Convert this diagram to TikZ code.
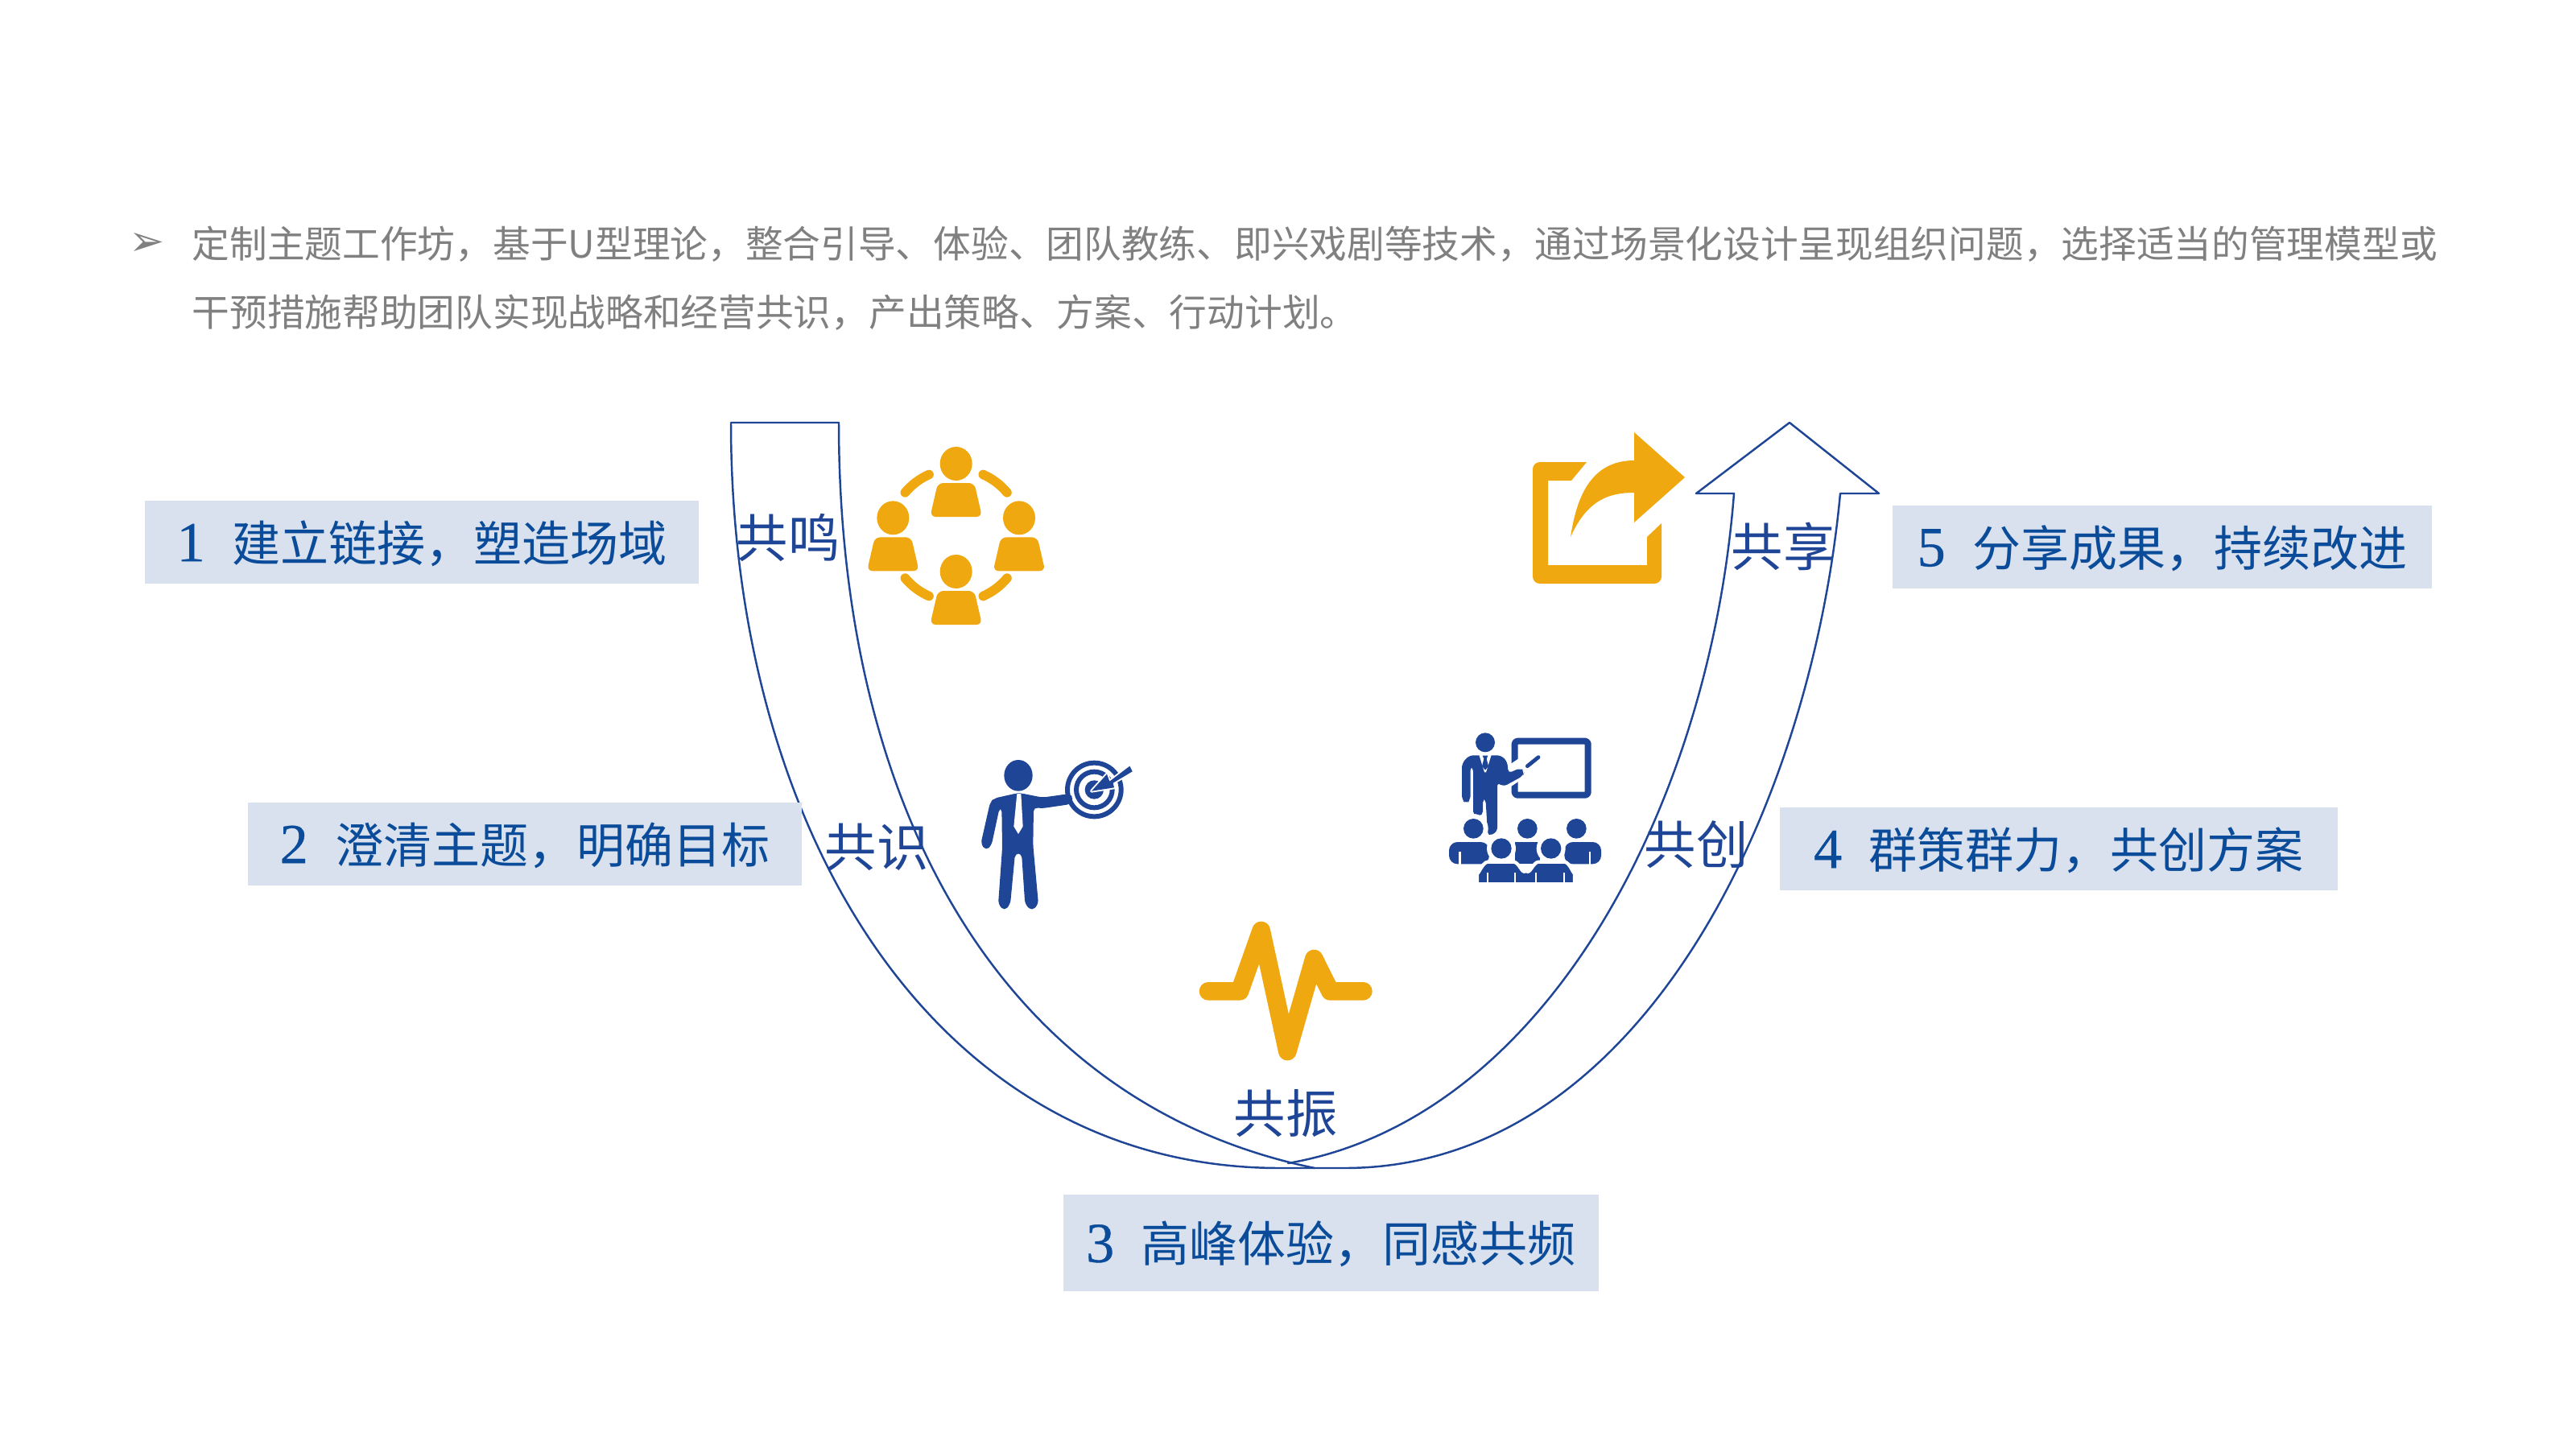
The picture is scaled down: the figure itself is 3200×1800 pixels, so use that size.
\documentclass[tikz,border=0pt]{standalone}
\usepackage{fontspec}
\newfontfamily\cjk{Noto Sans CJK SC}
\newfontfamily\dingfont{DejaVu Sans}
\newfontfamily\digitfont[FakeBold=0.5]{Liberation Serif}
\definecolor{boxfill}{HTML}{D9E1EE}
\definecolor{stagetext}{HTML}{0B4C9A}
\definecolor{iconblue}{HTML}{1F4596}
\definecolor{iconorange}{HTML}{F0A810}
\definecolor{introgray}{HTML}{808080}
\tikzset{
	stagebox/.style={fill=boxfill,text=stagetext,inner sep=0pt,text height=14pt,text depth=0.5pt,font=\cjk\fontsize{17.07}{20}\selectfont},
	gonglabel/.style={text=iconblue,inner sep=0pt,font=\cjk\fontsize{18.3}{20}\selectfont},
	introline/.style={text=introgray,inner sep=0pt,anchor=west,font=\cjk\fontsize{13.28}{16}\selectfont},
	uband/.style={draw=iconblue,line width=.7pt,line join=round},
	notch/.style={draw=white,line width=.8pt}
}
\begin{document}
\begin{tikzpicture}[x=.01cm,y=-.01cm,line join=round,line cap=round]
	\useasboundingbox (0,0) rectangle (3200,1800);
	% intro text
	\node[text=introgray,inner sep=0pt,font=\dingfont\fontsize{15}{16}\selectfont] (bullet) at (183,303) {➢};
	\node[introline] (introa) at (238,303) {定制主题工作坊，基于U型理论，整合引导、体验、团队教练、即兴戏剧等技术，通过场景化设计呈现组织问题，选择适当的管理模型或};
	\node[introline] (introb) at (238,388) {干预措施帮助团队实现战略和经营共识，产出策略、方案、行动计划。};
	% U arrow
	\coordinate (TL) at (908,525);
	\coordinate (TR) at (1042,525);
	\coordinate (X) at (1600,1445);
	\coordinate (HL) at (2107,613);
	\coordinate (HT) at (2223,525);
	\coordinate (HR) at (2334,613);
	\coordinate (SL) at (2154,613);
	\coordinate (SR) at (2286,613);
	\draw[uband] (TR)--(TL) .. controls (908,1030) and (1160,1451) .. (1590,1451)--(1670,1451) .. controls (2040,1451) and (2250,1000) .. (SR)--(HR)--(HT)--(HL)--(SL) .. controls (2124,1000) and (1920,1390) .. (X);
	\draw[uband] (TR) .. controls (1042,1000) and (1240,1370) .. (1633,1451);
	% stage boxes
	\foreach \p/\cx/\cy/\w/\h/\n/\t in {
		boxa/524/673.5/688/103/1/{建立链接，塑造场域},
		boxb/652/1048.5/688/103/2/{澄清主题，明确目标},
		boxc/1653.5/1544/665/120/3/{高峰体验，同感共频},
		boxd/2557.5/1054.5/693/103/4/{群策群力，共创方案},
		boxe/2686/679.5/670/103/5/{分享成果，持续改进}}
		\node[stagebox,minimum width=\w*.01cm,minimum height=\h*.01cm] (\p) at (\cx,\cy) {{\digitfont\fontsize{20}{20}\selectfont\n}\hspace{9.5pt}\t};
	% labels on the band
	\foreach \p/\cx/\cy/\t in {gma/979/668/共鸣,gmb/1089/1052/共识,gmc/1597/1383/共振,gmd/2107/1049/共创,gme/2215/679/共享}
		\node[gonglabel] (\p) at (\cx,\cy) {\t};
	% circle of people
	\begin{scope}[shift={(850,500)},scale=1/3]
		\foreach \a in {40,114,220,294}
			\draw[iconorange,line width=3.3pt] ([shift={(1013,495)}]\a:248) arc[start angle=\a,end angle=\a+26,radius=248];
		\foreach \x/\y in {1013/228,778/430,1248/430,1013/630} {
			\fill[iconorange] (\x,\y) ellipse[x radius=60,y radius=63];
			\fill[iconorange,rounded corners=2pt] (\x-68,\y+72)--(\x+68,\y+72)--(\x+97,\y+198)--(\x-97,\y+198)--cycle;
		}
	\end{scope}
	% man with target
	\begin{scope}[shift={(1200,900)},scale=1/3]
		\fill[iconblue] (195,190) ellipse[x radius=53,y radius=58];
		\fill[iconblue,rounded corners=1.5pt] (105,275)--(190,256)--(205,256)--(285,272)--(385,258)--(402,275)--(390,297)--(280,313)--(252,308)--(250,450)--(270,670)--(245,695)--(220,670)--(207,480)--(183,480)--(165,670)--(143,695)--(120,670)--(135,460)--(133,310)--(125,310)--(95,450)--(75,470)--(55,445)--(90,290)--cycle;
		\fill[white] (190,258)--(205,258)--(212,380)--(195,408)--(178,380)--cycle;
		\draw[iconblue,line width=1.7pt] (478,243) circle(100) (478,243) circle(67);
		\fill[iconblue] (478,243) circle(35);
		\draw[white,line width=1.1pt] (468,248)--(525,185)--(535,212)--(610,155)--(620,175)--(548,218)--(552,235)--cycle;
		\fill[iconblue] (468,248)--(525,185)--(535,212)--(610,155)--(620,175)--(548,218)--(552,235)--cycle;
	\end{scope}
	% presenter and audience
	\begin{scope}[shift={(1780,890)},scale=1/3]
		\draw[iconblue,line width=2.3pt,rounded corners=1pt] (305,92) rectangle (578,293);
		\fill[white] (285,180)--(330,150)--(330,235)--(285,265)--cycle;
		\draw[iconblue,line width=1.35pt] (352,185)--(393,152);
		\fill[iconblue] (195,97) circle(36);
		\fill[iconblue,rounded corners=1.5pt] (108,175)--(135,145)--(255,145)--(278,170)--(280,212)--(325,192)--(342,205)--(335,222)--(262,262)--(240,245)--(240,430)--(205,447)--(196,305)--(186,305)--(186,370)--(150,370)--(150,190)--(140,185)--(140,310)--(124,326)--(108,310)--cycle;
		\fill[white] (172,143)--(218,143)--(198,208)--(192,208)--cycle;
		\fill[iconblue] (185,146)--(205,146)--(200,158)--(207,185)--(195,200)--(183,185)--(190,158)--cycle;
		\fill[white] (151,418) circle(55);
		\fill[iconblue,rounded corners=3pt] (60,550)--(60,468)--(210,468)--(210,550)--cycle;
		\fill[iconblue,rounded corners=3pt] (627,550)--(627,468)--(490,468)--(490,550)--cycle;
		\fill[iconblue] (305,468)--(400,468)--(400,550)--(305,550)--cycle;
		\foreach \x/\y in {151/418,352/418,535/418} \fill[iconblue] (\x,\y) circle(37);
		\foreach \x in {100,585} \draw[notch,line cap=butt] (\x,505)--(\x,552);
		\foreach \x in {255,440} \fill[white] (\x,492) circle(54);
		\foreach \x in {255,440} \fill[iconblue] (\x,492) circle(38);
		\draw[white,fill=iconblue,line width=1.2pt] (165,625)--(165,580) to[out=-90,in=180] (205,542)--(300,542) to[out=0,in=-130] (347,575) to[out=-50,in=180] (395,542)--(490,542) to[out=0,in=-90] (528,580)--(528,625)--cycle;
		\foreach \x in {204,306,384,489} \draw[notch,line cap=butt] (\x,582)--(\x,628);
	\end{scope}
	% pulse
	\begin{scope}[shift={(1450,1130)},scale=1/3]
		\draw[iconorange,line width=6.45pt] (153,304)--(270,304)--(350,78)--(448,528)--(547,183)--(607,304)--(730,304);
	\end{scope}
	% share
	\fill[iconorange] (1971,574)--(1952,597)--(1923,597)--(1923,702)--(2046,702)--(2046,667)--(2064,650)[rounded corners=2.5pt]--(2064,725)--(1904,725)--(1904,574)[sharp corners]--cycle;
	\fill[iconorange] (2093,593)--(2030,537)--(2030,572) .. controls (1975,572) and (1958,620) .. (1951,667) .. controls (1972,620) and (2000,612) .. (2030,612)--(2030,649)--cycle;
\end{tikzpicture}
\end{document}
